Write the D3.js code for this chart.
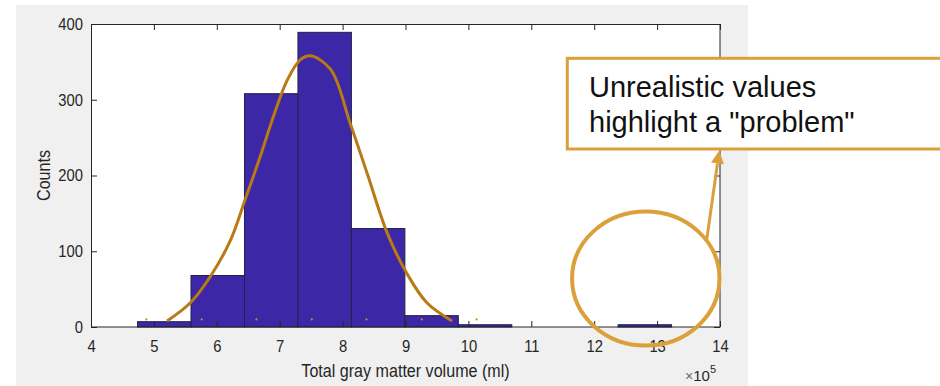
<!DOCTYPE html>
<html>
<head>
<meta charset="utf-8">
<script src="https://cdn.jsdelivr.net/npm/d3@7"></script>
<style>
  html, body { margin: 0; background: #fff; }
  svg { display: block; font-family: "Liberation Sans", Arial, Helvetica, sans-serif; }
</style>
</head>
<body>
<div id="chart"></div>
<script>
// Histogram of total gray matter volume (x in units of 10^5 ml) with a fitted normal curve.
const binEdges = [4.74, 5.59, 6.44, 7.29, 8.14, 8.99, 9.84, 10.69, 11.53, 12.38, 13.23];
const counts = [7, 68, 308, 389, 130, 15, 3, 0, 0, 3];

// fitted curve
const fitX = [5.21, 5.58, 5.90, 6.22, 6.45, 6.69, 6.90, 7.12, 7.33, 7.49, 7.81, 8.12, 8.39, 8.71, 9.02, 9.34, 9.74];
const fitY = [8, 32, 67, 115, 168, 225, 278, 326, 353, 358, 340, 269, 203, 124, 71, 32, 8];

// the small orange markers just above the baseline
const markerX = [4.88, 5.76, 6.63, 7.51, 8.38, 9.26, 10.13];
const markerY = [10, 10, 10, 10, 10, 10, 10];

const xTicks = [4, 5, 6, 7, 8, 9, 10, 11, 12, 13, 14];
const yTicks = [0, 100, 200, 300, 400];
const xLabel = "Total gray matter volume (ml)";
const yLabel = "Counts";
const calloutLines = ["Unrealistic values", "highlight a \"problem\""];
// circled outlier region, in data units (centre x, centre count)
const circledAt = [12.82, 64];

const W = 940, H = 386;
const m = { top: 24, right: 220, bottom: 59, left: 91 };
const iw = W - m.left - m.right;
const ih = H - m.top - m.bottom;
const squish = 0.87;           // the MATLAB figure was pasted slightly narrowed
const axisCol = "#262626";
const gold = "#dba03a";

const svg = d3.select("#chart").append("svg").attr("width", W).attr("height", H);

// figure panel
svg.append("rect").attr("x", 16).attr("y", 5).attr("width", 732).attr("height", H - 5).attr("fill", "#f0f0f0");

const g = svg.append("g").attr("transform", `translate(${m.left},${m.top})`);
g.append("rect").attr("width", iw).attr("height", ih).attr("fill", "#fff");

const x = d3.scaleLinear().domain([4, 14]).range([0, iw]);
const y = d3.scaleLinear().domain([0, 400]).range([ih, 0]);

// bars
const bins = counts.map((c, i) => ({ x0: binEdges[i], x1: binEdges[i + 1], c })).filter((d) => d.c > 0);
g.selectAll("rect.bar").data(bins).join("rect").attr("class", "bar")
  .attr("x", (d) => x(d.x0)).attr("width", (d) => x(d.x1) - x(d.x0))
  .attr("y", (d) => y(d.c)).attr("height", (d) => ih - y(d.c))
  .attr("fill", "#3c28a6").attr("stroke", "#22224a").attr("stroke-width", 1);

// markers
g.selectAll("circle.mk").data(markerX.map((v, i) => [v, markerY[i]])).join("circle").attr("class", "mk")
  .attr("cx", (d) => x(d[0])).attr("cy", (d) => y(d[1])).attr("r", 1.1).attr("fill", "#c98a1e");

// fitted curve
g.append("path").datum(fitX.map((v, i) => [v, fitY[i]]))
  .attr("fill", "none").attr("stroke", "#b87a14").attr("stroke-width", 3)
  .attr("d", d3.line().x((d) => x(d[0])).y((d) => y(d[1])).curve(d3.curveCatmullRom));

// axes: ticks point inwards on all four sides
const styleAxis = (sel) => {
  sel.selectAll(".domain").remove();
  sel.selectAll("line").attr("stroke", axisCol);
  sel.selectAll("text").attr("fill", axisCol).attr("font-size", 17);
};
g.append("g").attr("transform", `translate(0,${ih})`)
  .call(d3.axisBottom(x).tickValues(xTicks).tickFormat(d3.format("d")).tickSizeInner(-6).tickSizeOuter(0).tickPadding(12.6))
  .call(styleAxis)
  .call((a) => a.selectAll("text").attr("transform", `scale(${squish},1)`));
g.append("g")
  .call(d3.axisLeft(y).tickValues(yTicks).tickSizeInner(-6).tickSizeOuter(0))
  .call(styleAxis)
  .call((a) => a.selectAll("text").attr("x", -8 / squish).attr("transform", `scale(${squish},1)`));
g.append("g")
  .call(d3.axisTop(x).tickValues(xTicks).tickFormat("").tickSizeInner(-6).tickSizeOuter(0))
  .call(styleAxis);
g.append("g").attr("transform", `translate(${iw},0)`)
  .call(d3.axisRight(y).tickValues(yTicks).tickFormat("").tickSizeInner(-6).tickSizeOuter(0))
  .call(styleAxis);

g.append("rect").attr("x", 0.5).attr("y", 0.5).attr("width", iw - 0.5).attr("height", ih - 0.5)
  .attr("fill", "none").attr("stroke", axisCol).attr("stroke-width", 1);

// axis labels
g.append("g").attr("transform", `translate(${iw / 2},${ih + 50}) scale(${squish},1)`)
  .append("text").attr("text-anchor", "middle").attr("font-size", 18.5).attr("fill", axisCol).text(xLabel);
g.append("g").attr("transform", `translate(-41,${ih / 2}) rotate(-90) scale(${squish},1)`)
  .append("text").attr("text-anchor", "middle").attr("font-size", 18.5).attr("fill", axisCol).text(yLabel);

// exponent
const ex = g.append("text").attr("x", iw - 4).attr("y", ih + 54).attr("text-anchor", "end").attr("fill", axisCol);
ex.append("tspan").attr("font-size", 14).attr("fill", "#666").text("×");
ex.append("tspan").attr("font-size", 15).text("10");
ex.append("tspan").attr("font-size", 11).attr("dy", -8).text("5");

// callout: circle around the outliers, arrow up to the text box
const cx = m.left + x(circledAt[0]), cy = m.top + y(circledAt[1]);
svg.append("ellipse").attr("cx", cx).attr("cy", cy).attr("rx", 73.7).attr("ry", 67)
  .attr("fill", "none").attr("stroke", gold).attr("stroke-width", 4);

const tail = [706.7, 240], tip = [719.3, 150.5];
const dx = tip[0] - tail[0], dy = tip[1] - tail[1], len = Math.hypot(dx, dy);
const ux = dx / len, uy = dy / len, hl = 13, hw = 6.5;
const base = [tip[0] - ux * hl, tip[1] - uy * hl];
svg.append("line").attr("x1", tail[0]).attr("y1", tail[1]).attr("x2", base[0]).attr("y2", base[1])
  .attr("stroke", gold).attr("stroke-width", 3);
svg.append("path").attr("fill", gold)
  .attr("d", `M${tip[0]},${tip[1]}L${base[0] - uy * hw},${base[1] + ux * hw}L${base[0] + uy * hw},${base[1] - ux * hw}Z`);

svg.append("rect").attr("x", 567.3).attr("y", 58.3).attr("width", 420).attr("height", 90.7)
  .attr("fill", "#fff").attr("stroke", gold).attr("stroke-width", 3);
svg.append("g").selectAll("text").data(calloutLines).join("text")
  .attr("x", 589).attr("y", (d, i) => 97.3 + i * 34.7)
  .attr("font-size", 29).attr("fill", "#111").text((d) => d);
</script>
</body>
</html>
